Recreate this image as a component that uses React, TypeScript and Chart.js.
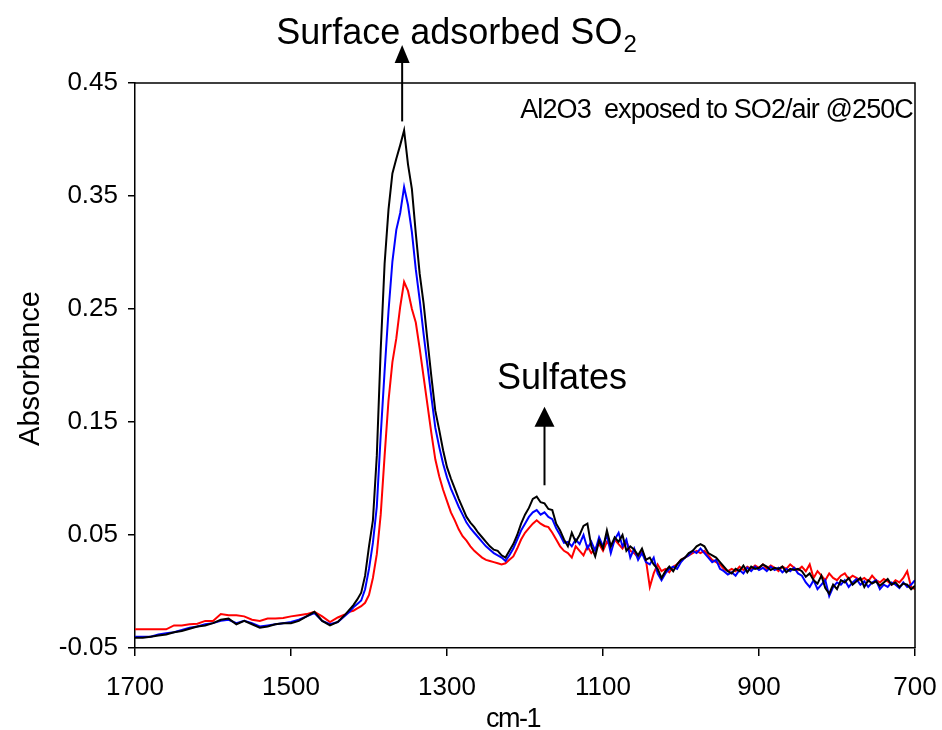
import React, { useEffect, useRef } from 'react';
import { Chart, registerables } from 'chart.js';

Chart.register(...registerables);

// Wavenumbers (cm-1)
const WAVENUMBERS = [
  1700, 1690, 1680, 1670, 1660, 1650, 1640, 1630, 1620, 1610, 1600, 1590, 1580, 1570, 1560, 1550, 1540, 1530, 1520, 1510, 1500, 1490, 1480, 1470, 1460, 1450, 1440, 1430,
  1425, 1420, 1415, 1410, 1405, 1400, 1395, 1390, 1385, 1380, 1375, 1370, 1365, 1360, 1355, 1350, 1345, 1340, 1335, 1330, 1325, 1320, 1315, 1310, 1305, 1300,
  1295, 1290, 1285, 1280, 1275, 1270, 1265, 1260, 1255, 1250, 1245, 1240, 1235, 1230, 1225, 1220, 1215, 1210, 1205, 1200,
  1195, 1190, 1185, 1180, 1175, 1170, 1165, 1160, 1155, 1150, 1145, 1140, 1135, 1130, 1125, 1120, 1115, 1110, 1105, 1100,
  1095, 1090, 1085, 1080, 1075, 1070, 1065, 1060, 1055, 1050, 1045, 1040, 1035, 1030, 1025, 1020, 1015, 1010, 1005, 1000,
  995, 990, 985, 980, 975, 970, 965, 960, 955, 950, 945, 940, 935, 930, 925, 920, 915, 910, 905, 900,
  895, 890, 885, 880, 875, 870, 865, 860, 855, 850, 845, 840, 835, 830, 825, 820, 815, 810, 805, 800,
  795, 790, 785, 780, 775, 770, 765, 760, 755, 750, 745, 740, 735, 730, 725, 720, 715, 710, 705, 700,
];

const BLACK_SERIES = [
  -0.041, -0.041, -0.040, -0.039, -0.038, -0.036, -0.035, -0.033, -0.031, -0.030, -0.028, -0.025, -0.024, -0.029, -0.026, -0.029, -0.032, -0.031, -0.029, -0.028, -0.028, -0.026, -0.022, -0.018, -0.026, -0.030, -0.027, -0.020,
  -0.016, -0.012, -0.007, -0.001, 0.014, 0.040, 0.063, 0.120, 0.214, 0.290, 0.338, 0.370, 0.383, 0.395, 0.408, 0.378, 0.356, 0.317, 0.281, 0.255, 0.222, 0.190, 0.160, 0.143, 0.125, 0.110,
  0.100, 0.091, 0.082, 0.074, 0.066, 0.061, 0.057, 0.052, 0.048, 0.044, 0.040, 0.037, 0.036, 0.032, 0.030, 0.036, 0.042, 0.050, 0.060, 0.068,
  0.074, 0.082, 0.084, 0.079, 0.078, 0.073, 0.072, 0.060, 0.054, 0.046, 0.040, 0.052, 0.044, 0.050, 0.058, 0.060, 0.040, 0.031, 0.045, 0.038,
  0.054, 0.040, 0.048, 0.044, 0.050, 0.036, 0.040, 0.037, 0.032, 0.038, 0.028, 0.030, 0.024, 0.020, 0.012, 0.018, 0.022, 0.018, 0.024, 0.028,
  0.030, 0.034, 0.036, 0.040, 0.042, 0.040, 0.034, 0.032, 0.030, 0.026, 0.022, 0.018, 0.016, 0.020, 0.018, 0.023, 0.017, 0.022, 0.020, 0.021,
  0.024, 0.022, 0.019, 0.021, 0.020, 0.022, 0.017, 0.020, 0.019, 0.020, 0.018, 0.013, 0.016, 0.010, 0.007, 0.014, 0.003, -0.002, 0.006, 0.002,
  0.010, 0.008, 0.012, 0.006, 0.009, 0.012, 0.004, 0.010, 0.007, 0.009, 0.005, 0.008, 0.011, 0.006, 0.008, 0.004, 0.007, 0.006, 0.002, 0.005,
];

const BLUE_SERIES = [
  -0.040, -0.040, -0.040, -0.038, -0.037, -0.036, -0.034, -0.032, -0.031, -0.029, -0.028, -0.026, -0.025, -0.028, -0.026, -0.028, -0.031, -0.030, -0.029, -0.028, -0.027, -0.025, -0.022, -0.019, -0.026, -0.029, -0.027, -0.021,
  -0.018, -0.014, -0.011, -0.008, 0.002, 0.020, 0.043, 0.075, 0.138, 0.195, 0.248, 0.292, 0.320, 0.335, 0.358, 0.342, 0.318, 0.285, 0.258, 0.228, 0.200, 0.172, 0.145, 0.128, 0.113, 0.101,
  0.091, 0.083, 0.075, 0.068, 0.061, 0.056, 0.052, 0.048, 0.044, 0.040, 0.037, 0.034, 0.032, 0.030, 0.027, 0.032, 0.038, 0.046, 0.054, 0.060,
  0.066, 0.070, 0.072, 0.068, 0.070, 0.066, 0.064, 0.056, 0.050, 0.043, 0.044, 0.040, 0.046, 0.042, 0.050, 0.038, 0.044, 0.036, 0.048, 0.040,
  0.050, 0.034, 0.046, 0.052, 0.040, 0.046, 0.030, 0.038, 0.028, 0.034, 0.026, 0.024, 0.030, 0.016, 0.010, 0.016, 0.020, 0.022, 0.020, 0.026,
  0.030, 0.032, 0.036, 0.034, 0.038, 0.034, 0.030, 0.026, 0.028, 0.020, 0.018, 0.015, 0.017, 0.014, 0.019, 0.016, 0.021, 0.018, 0.022, 0.019,
  0.021, 0.018, 0.022, 0.019, 0.021, 0.017, 0.020, 0.018, 0.021, 0.016, 0.014, 0.008, 0.004, 0.010, 0.002, 0.006, 0.010, -0.004, 0.004, 0.008,
  0.006, 0.010, 0.004, 0.008, 0.011, 0.006, 0.009, 0.004, 0.008, 0.010, 0.002, 0.006, 0.004, 0.008, 0.006, 0.003, 0.008, 0.004, 0.006, 0.010,
];

const RED_SERIES = [
  -0.0335, -0.0335, -0.0335, -0.0335, -0.0335, -0.030, -0.030, -0.029, -0.0285, -0.026, -0.026, -0.020, -0.021, -0.021, -0.022, -0.025, -0.026, -0.024, -0.024, -0.0235, -0.022, -0.021, -0.020, -0.018, -0.022, -0.027, -0.023, -0.020,
  -0.018, -0.017, -0.015, -0.013, -0.010, -0.003, 0.012, 0.033, 0.068, 0.120, 0.169, 0.203, 0.224, 0.252, 0.274, 0.266, 0.250, 0.238, 0.215, 0.190, 0.165, 0.140, 0.117, 0.102, 0.090, 0.080,
  0.070, 0.063, 0.055, 0.049, 0.045, 0.040, 0.036, 0.033, 0.030, 0.028, 0.027, 0.026, 0.025, 0.024, 0.025, 0.028, 0.031, 0.038, 0.046, 0.052,
  0.056, 0.060, 0.063, 0.060, 0.058, 0.057, 0.052, 0.046, 0.040, 0.036, 0.034, 0.030, 0.040, 0.036, 0.032, 0.040, 0.034, 0.038, 0.042, 0.036,
  0.044, 0.040, 0.046, 0.042, 0.038, 0.044, 0.036, 0.034, 0.030, 0.036, 0.028, 0.004, 0.016, 0.024, 0.018, 0.020, 0.017, 0.022, 0.024, 0.028,
  0.030, 0.032, 0.034, 0.036, 0.034, 0.036, 0.032, 0.028, 0.026, 0.024, 0.020, 0.018, 0.020, 0.018, 0.022, 0.019, 0.022, 0.020, 0.023, 0.021,
  0.024, 0.020, 0.023, 0.021, 0.018, 0.022, 0.020, 0.024, 0.021, 0.019, 0.022, 0.018, 0.024, 0.012, 0.018, 0.014, 0.010, 0.016, 0.012, 0.010,
  0.014, 0.016, 0.011, 0.014, 0.012, 0.010, 0.012, 0.009, 0.014, 0.010, 0.008, 0.011, 0.009, 0.006, 0.010, 0.008, 0.012, 0.018, 0.004, 0.002,
];

const X_TICKS = [1700, 1500, 1300, 1100, 900, 700];
const X_TICK_LABELS = ['1700', '1500', '1300', '1100', '900', '700'];
const Y_TICKS = [-0.05, 0.05, 0.15, 0.25, 0.35, 0.45];
const Y_TICK_LABELS = ['-0.05', '0.05', '0.15', '0.25', '0.35', '0.45'];

const X_TITLE = 'cm-1';
const Y_TITLE = 'Absorbance';
const PEAK_LABEL = 'Surface adsorbed SO';
const PEAK_LABEL_SUB = '2';
const SULFATE_LABEL = 'Sulfates';
const CONDITION_LABEL = 'Al2O3  exposed to SO2/air @250C';

const FONT = '"Liberation Sans", Arial, Helvetica, sans-serif';

const toPoints = (vals: number[]) => WAVENUMBERS.map((x, i) => ({ x, y: vals[i] }));

const annotationPlugin = {
  id: 'spectrumAnnotations',
  afterDraw(chart: any) {
    const { ctx, chartArea: a, scales } = chart;
    const xs = scales.x;
    const ys = scales.y;
    const px = (w: number) => xs.getPixelForValue(w);
    const py = (v: number) => ys.getPixelForValue(v);
    ctx.save();
    ctx.fillStyle = '#000';
    ctx.strokeStyle = '#000';

    // frame top & right
    ctx.lineWidth = 1.5;
    ctx.beginPath();
    ctx.moveTo(a.left, a.top);
    ctx.lineTo(a.right, a.top);
    ctx.lineTo(a.right, a.bottom);
    ctx.stroke();

    const arrow = (wn: number, vFrom: number, vTo: number, headLen: number, headHalf: number) => {
      const x = px(wn);
      const y0 = py(vFrom);
      const y1 = py(vTo);
      ctx.lineWidth = 2;
      ctx.beginPath();
      ctx.moveTo(x, y0);
      ctx.lineTo(x, y1 + headLen - 1);
      ctx.stroke();
      ctx.beginPath();
      ctx.moveTo(x, y1);
      ctx.lineTo(x - headHalf, y1 + headLen);
      ctx.lineTo(x + headHalf, y1 + headLen);
      ctx.closePath();
      ctx.fill();
    };

    arrow(1357.5, 0.416, 0.4836, 18, 7.5);
    arrow(1175, 0.094, 0.1635, 20, 10);

    ctx.textBaseline = 'alphabetic';
    // main label with subscript
    ctx.font = `36px ${FONT}`;
    ctx.textAlign = 'left';
    const tx = px(1519);
    const ty = py(0.4845);
    ctx.fillText(PEAK_LABEL, tx, ty);
    const w = ctx.measureText(PEAK_LABEL).width;
    ctx.font = `24px ${FONT}`;
    ctx.fillText(PEAK_LABEL_SUB, tx + w + 1, ty + 8);

    // Sulfates
    ctx.font = `36px ${FONT}`;
    ctx.fillText(SULFATE_LABEL, px(1236), py(0.179));

    // condition label
    ctx.font = `27px ${FONT}`;
    (ctx as any).letterSpacing = '-0.9px';
    ctx.textAlign = 'right';
    ctx.fillText(CONDITION_LABEL, px(702.6), py(0.4188));

    // axis titles
    ctx.textAlign = 'center';
    ctx.font = `27px ${FONT}`;
    (ctx as any).letterSpacing = '-1.5px';
    ctx.fillText(X_TITLE, (a.left + a.right) / 2 - 12, a.bottom + 79);
    (ctx as any).letterSpacing = '0px';
    ctx.save();
    ctx.translate(a.left - 104, (a.top + a.bottom) / 2 + 3);
    ctx.rotate(-Math.PI / 2);
    ctx.font = `29px ${FONT}`;
    ctx.textBaseline = 'middle';
    ctx.fillText(Y_TITLE, 0, 0);
    ctx.restore();

    ctx.restore();
  },
};

export default function App() {
  const canvasRef = useRef<HTMLCanvasElement | null>(null);

  useEffect(() => {
    document.body.style.margin = '0';
    const canvas = canvasRef.current;
    if (!canvas) return;
    const chart = new Chart(canvas, {
      type: 'line',
      data: {
        datasets: [
          { label: 'black', data: toPoints(BLACK_SERIES), borderColor: '#000000', borderWidth: 2, pointRadius: 0, tension: 0, fill: false },
          { label: 'blue', data: toPoints(BLUE_SERIES), borderColor: '#0000FF', borderWidth: 2, pointRadius: 0, tension: 0, fill: false },
          { label: 'red', data: toPoints(RED_SERIES), borderColor: '#FF0000', borderWidth: 2, pointRadius: 0, tension: 0, fill: false },
        ],
      },
      options: {
        animation: false,
        responsive: false,
        devicePixelRatio: 1,
        events: [],
        layout: { padding: { left: 0, right: 27, top: 83, bottom: 0 } },
        plugins: { legend: { display: false }, tooltip: { enabled: false }, title: { display: false } },
        scales: {
          x: {
            type: 'linear',
            min: 700,
            max: 1700,
            reverse: true,
            afterBuildTicks: (s: any) => { s.ticks = X_TICKS.map((v) => ({ value: v })); },
            afterFit: (s: any) => { s.height = 82; s.paddingLeft = 0; s.paddingRight = 0; },
            ticks: {
              callback: (_v: any, i: number) => X_TICK_LABELS[i],
              font: { size: 26, family: FONT },
              color: '#000',
              padding: 16,
              maxRotation: 0,
              autoSkip: false,
            },
            grid: { drawOnChartArea: false, tickLength: 8, color: '#000', lineWidth: 1.5 },
            border: { color: '#000', width: 1.5 },
          },
          y: {
            type: 'linear',
            min: -0.05,
            max: 0.45,
            afterBuildTicks: (s: any) => { s.ticks = Y_TICKS.map((v) => ({ value: v })); },
            afterFit: (s: any) => { s.width = 135; s.paddingTop = 0; s.paddingBottom = 0; },
            ticks: {
              callback: (_v: any, i: number) => Y_TICK_LABELS[i],
              font: { size: 26, family: FONT },
              color: '#000',
              padding: 10,
              autoSkip: false,
            },
            grid: { drawOnChartArea: false, tickLength: 7, color: '#000', lineWidth: 1.5 },
            border: { color: '#000', width: 1.5 },
          },
        },
      },
      plugins: [annotationPlugin],
    });
    return () => chart.destroy();
  }, []);

  return (
    <div style={{ width: 942, height: 730, background: '#fff' }}>
      <canvas ref={canvasRef} width={942} height={730} />
    </div>
  );
}
